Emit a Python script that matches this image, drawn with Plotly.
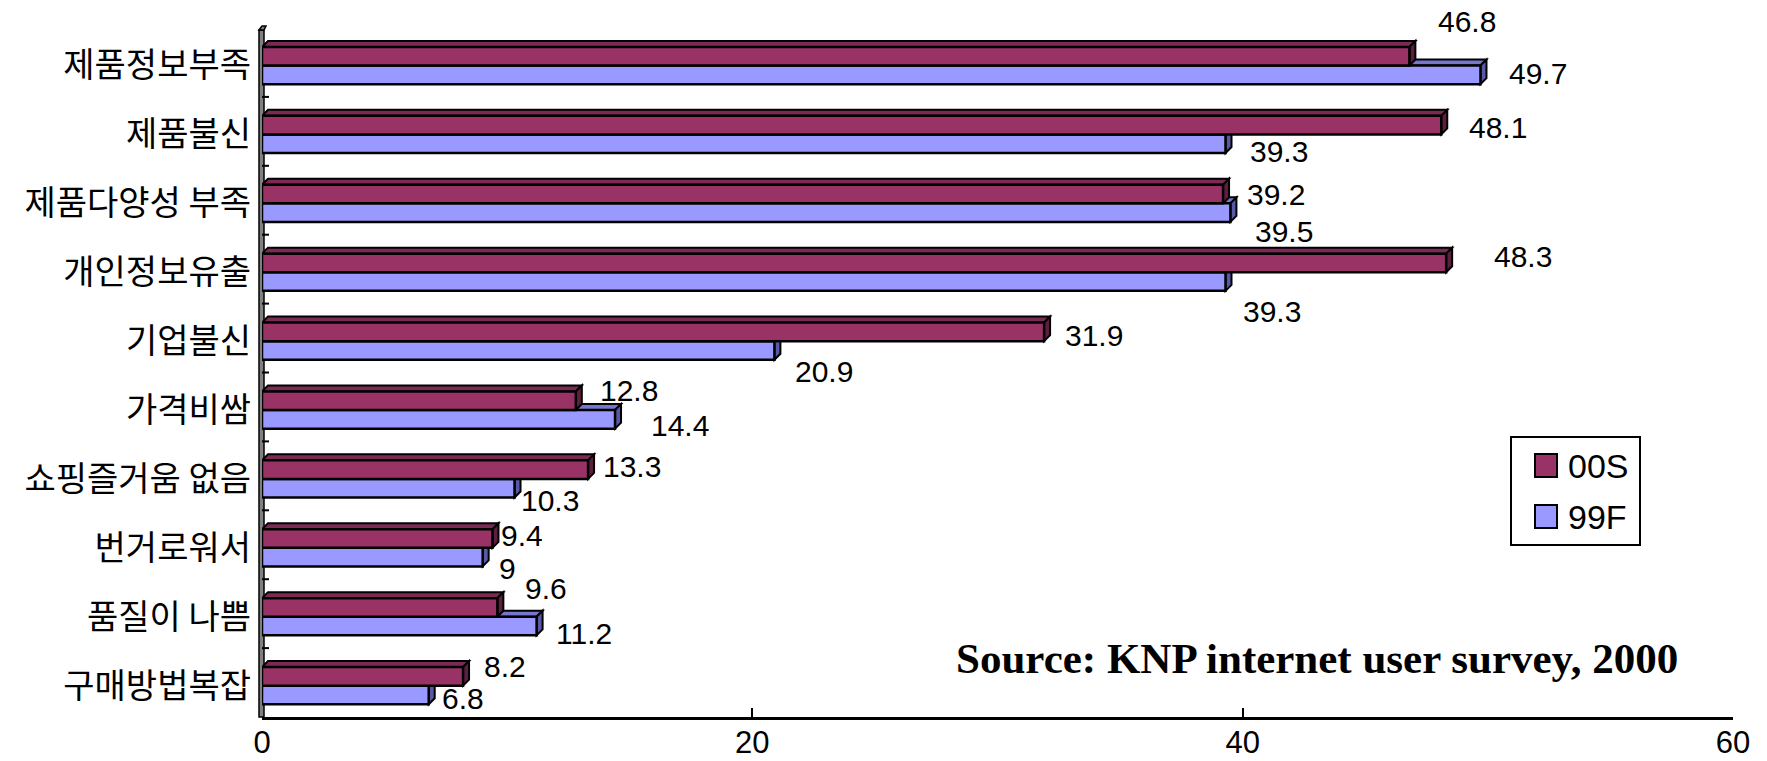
import plotly.graph_objects as go

# Reasons for not shopping online, two survey waves
categories = ["제품정보부족", "제품불신", "제품다양성 부족", "개인정보유출", "기업불신",
              "가격비쌈", "쇼핑즐거움 없음", "번거로워서", "품질이 나쁨", "구매방법복잡"]
series_names = ["00S", "99F"]
values_00s = [46.8, 48.1, 39.2, 48.3, 31.9, 12.8, 13.3, 9.4, 9.6, 8.2]
values_99f = [49.7, 39.3, 39.5, 39.3, 20.9, 14.4, 10.3, 9, 11.2, 6.8]
x_ticks = [0, 20, 40, 60]

# ---- styling -------------------------------------------------------------
W, H = 1767, 761
ML, MR, MT, MB = 262, 34, 28, 44
PW, PH = W - ML - MR, H - MT - MB

front = {"00S": "#993366", "99F": "#9999FF"}
top_face = {"00S": "#7A2A55", "99F": "#7676CC"}
side_face = {"00S": "#5E1E40", "99F": "#5858A6"}

XMAX = 60
BAR_W = 0.27          # thickness of one bar, in category units
SHIFT = 0.045         # pair sits slightly below the band centre
DEPTH_PX = 6          # 3-D extrusion depth
DX = DEPTH_PX * XMAX / PW
DY = DEPTH_PX * 10 / PH

NUM_FONT = "Liberation Sans, Arial, sans-serif"
KR_FONT = "Noto Sans CJK KR, sans-serif"

# label offsets (px) from the end of each bar: (dx, dy downwards)
label_off_00s = [(27, -35), (26, 2), (22, 0), (46, -6), (19, 4),
                 (22, -10), (13, -3), (7, -3), (26, -19), (19, -10)]
label_off_99f = [(27, -1), (22, 8), (23, 19), (15, 30), (19, 21),
                 (34, 6), (4, 12), (14, 11), (17, 7), (11, 4)]


def px_x(p):
    return (p - ML) / PW


def px_y(p):
    return (H - MB - p) / PH


def fmt(v):
    return f"{v:g}"


idx = list(range(len(categories)))
pos = {
    "00S": [i + SHIFT - BAR_W / 2 for i in idx],
    "99F": [i + SHIFT + BAR_W / 2 for i in idx],
}
vals = {"00S": values_00s, "99F": values_99f}

fig = go.Figure()

# 3-D faces (top and right side) drawn underneath the front faces
shapes = []
for i in idx:
    for s in ["99F", "00S"]:
        v = vals[s][i]
        yc = pos[s][i]
        yt, yb = yc - BAR_W / 2, yc + BAR_W / 2
        top_path = (f"M 0,{yt} L {DX},{yt - DY} L {v + DX},{yt - DY} "
                    f"L {v},{yt} Z")
        side_path = (f"M {v},{yt} L {v + DX},{yt - DY} L {v + DX},{yb - DY} "
                     f"L {v},{yb} Z")
        shapes.append(dict(type="path", path=top_path, xref="x", yref="y",
                           fillcolor=top_face[s], line=dict(color="black", width=2),
                           layer="below"))
        shapes.append(dict(type="path", path=side_path, xref="x", yref="y",
                           fillcolor=side_face[s], line=dict(color="black", width=2),
                           layer="below"))

# front faces
for s in ["99F", "00S"]:
    fig.add_trace(go.Bar(
        x=vals[s], y=pos[s], orientation="h", width=BAR_W, name=s,
        marker=dict(color=front[s], line=dict(color="black", width=2.5)),
        showlegend=False, hoverinfo="x+name",
    ))

# left wall with small marks at the category boundaries
shapes.append(dict(type="rect", xref="paper", yref="paper",
                   x0=px_x(259), x1=px_x(264), y0=px_y(717), y1=px_y(30),
                   fillcolor="#808080", line=dict(color="black", width=1.5),
                   layer="below"))
shapes.append(dict(type="path", xref="paper", yref="paper",
                   path=(f"M {px_x(259)},{px_y(30)} L {px_x(262)},{px_y(26)} "
                         f"L {px_x(266)},{px_y(26)} L {px_x(264)},{px_y(30)} Z"),
                   fillcolor="#808080", line=dict(color="black", width=1.5)))
for i in idx[1:]:
    shapes.append(dict(type="line", xref="paper", yref="y",
                       x0=px_x(262), x1=px_x(269), y0=i - 0.5, y1=i - 0.5,
                       line=dict(color="black", width=2)))

# legend box
shapes.append(dict(type="rect", xref="paper", yref="paper",
                   x0=px_x(1511), x1=px_x(1640), y0=px_y(545), y1=px_y(437),
                   fillcolor="white", line=dict(color="black", width=2)))
annotations = []
for s, (sq_top, sq_bot) in zip(series_names, [(454, 477), (505, 528)]):
    shapes.append(dict(type="rect", xref="paper", yref="paper",
                       x0=px_x(1535), x1=px_x(1557), y0=px_y(sq_bot), y1=px_y(sq_top),
                       fillcolor=front[s], line=dict(color="black", width=2)))
    annotations.append(dict(xref="paper", yref="paper", x=px_x(1566),
                            y=px_y((sq_top + sq_bot) / 2), text=s, showarrow=False,
                            xanchor="left", yanchor="middle",
                            font=dict(family=NUM_FONT, size=34, color="black")))

# value labels
for s, offs in [("00S", label_off_00s), ("99F", label_off_99f)]:
    for i in idx:
        dx, dy = offs[i]
        annotations.append(dict(x=vals[s][i], y=pos[s][i], xref="x", yref="y",
                                text=fmt(vals[s][i]), showarrow=False,
                                xanchor="left", yanchor="middle",
                                xshift=dx, yshift=-dy,
                                font=dict(family=NUM_FONT, size=30, color="black")))

# source note
annotations.append(dict(xref="paper", yref="paper", x=px_x(1317), y=px_y(658),
                        text="<b>Source: KNP internet user survey, 2000</b>",
                        showarrow=False, xanchor="center", yanchor="middle",
                        font=dict(family="Liberation Serif, Times New Roman, serif",
                                  size=43, color="black")))

fig.update_layout(
    width=W, height=H,
    margin=dict(l=ML, r=MR, t=MT, b=MB, pad=0, autoexpand=False),
    paper_bgcolor="white", plot_bgcolor="white",
    barmode="overlay",
    shapes=shapes, annotations=annotations,
    xaxis=dict(range=[0, XMAX], tickvals=x_ticks, ticktext=[str(t) for t in x_ticks],
               automargin=False,
               showgrid=False, zeroline=False, showline=True,
               linecolor="black", linewidth=2.5,
               ticks="inside", ticklen=9, tickwidth=2, tickcolor="black",
               ticklabelstandoff=-4,
               tickfont=dict(family=NUM_FONT, size=31, color="black")),
    yaxis=dict(range=[9.5, -0.5], tickvals=[i + SHIFT for i in idx],
               ticktext=categories, showgrid=False, zeroline=False,
               automargin=False,
               showline=False, ticks="", ticklabelstandoff=10,
               tickfont=dict(family=KR_FONT, size=34, color="black")),
)

fig.write_html("out.html")
